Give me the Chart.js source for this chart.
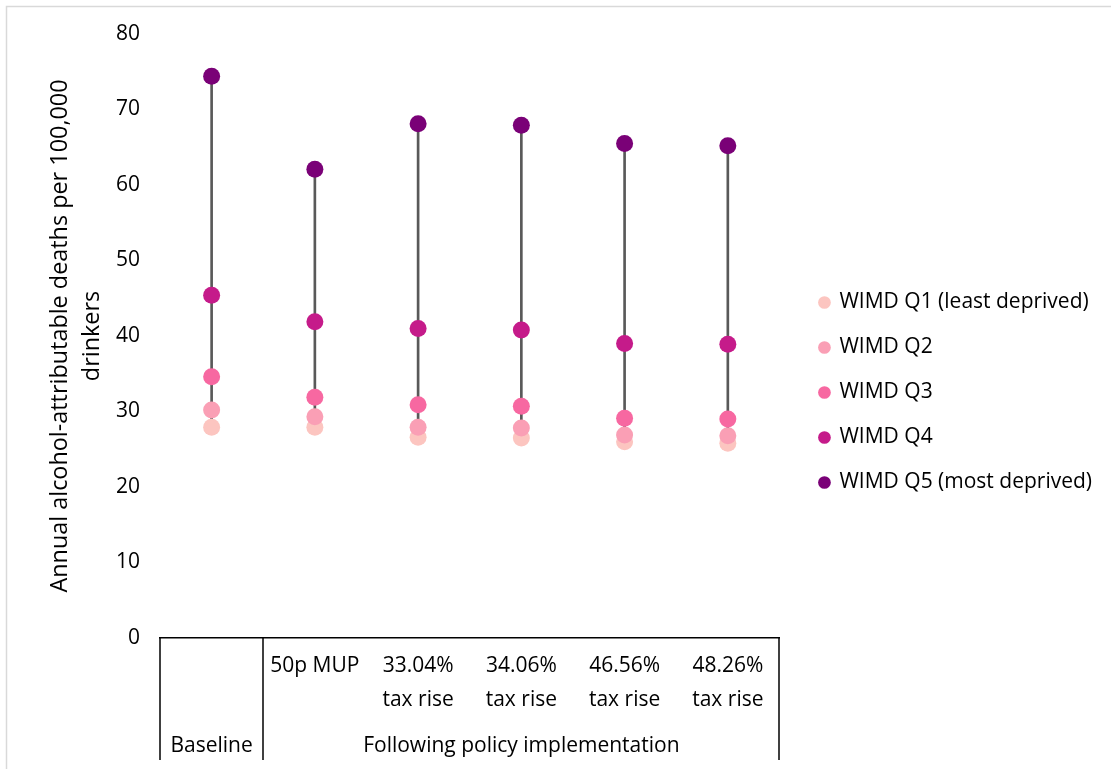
<!DOCTYPE html>
<html>
<head>
<meta charset="utf-8">
<script src="https://cdn.jsdelivr.net/npm/chart.js@4"></script>
<style>
  html, body { margin: 0; padding: 0; background: #fff; }
  #wrap { width: 1111px; height: 769px; position: relative; }
</style>
</head>
<body>
<div id="wrap"><canvas id="c"></canvas></div>
<script>
// Categories and their two-level axis labels
const categories = ["Baseline", "50p MUP", "33.04% tax rise", "34.06% tax rise", "46.56% tax rise", "48.26% tax rise"];
const tickLines = [[], ["50p MUP"], ["33.04%", "tax rise"], ["34.06%", "tax rise"], ["46.56%", "tax rise"], ["48.26%", "tax rise"]];
const groupLabels = ["Baseline", "Following policy implementation"];
const groupSpans = [[0, 0], [1, 5]];

// Annual alcohol-attributable deaths per 100,000 drinkers, by deprivation quintile
const seriesNames = ["WIMD Q1 (least deprived)", "WIMD Q2", "WIMD Q3", "WIMD Q4", "WIMD Q5 (most deprived)"];
const q1 = [27.9, 27.9, 26.6, 26.5, 26.0, 25.8];
const q2 = [30.2, 29.3, 27.9, 27.8, 26.9, 26.8];
const q3 = [34.6, 31.9, 30.9, 30.7, 29.1, 29.0];
const q4 = [45.4, 41.9, 41.0, 40.8, 39.0, 38.9];
const q5 = [74.4, 62.1, 68.1, 67.9, 65.5, 65.2];
const yTicks = [0, 10, 20, 30, 40, 50, 60, 70, 80];

const colors = ["#fcc5c0", "#fa9fb5", "#f768a1", "#c51b8a", "#7a0177"];
const FONT = "'Open Sans', Lato, sans-serif";
const allSeries = [q1, q2, q3, q4, q5];

// High-low range for each category (floating bar drawn as a thin stem)
const ranges = categories.map((_, i) => {
  const vals = allSeries.map(s => s[i]);
  return [Math.min(...vals), Math.max(...vals)];
});

const pointSets = allSeries.map((s, k) => ({
  type: 'line',
  label: seriesNames[k],
  data: s,
  showLine: false,
  pointRadius: 8.5,
  pointHoverRadius: 8.5,
  pointBackgroundColor: colors[k],
  pointBorderColor: colors[k],
  pointBorderWidth: 0,
  backgroundColor: colors[k],
  borderColor: colors[k],
  pointStyle: 'circle',
  order: 5 - k
}));

const stemSet = {
  type: 'bar',
  label: 'range',
  data: ranges,
  backgroundColor: '#595959',
  borderWidth: 0,
  barThickness: 2,
  order: 10
};

// Frame, axis table and its labels
const framePlugin = {
  id: 'frame',
  beforeDraw(chart) {
    const ctx = chart.ctx;
    ctx.save();
    ctx.strokeStyle = '#d9d9d9';
    ctx.lineWidth = 1.5;
    ctx.beginPath();
    ctx.moveTo(6.5, chart.height);
    ctx.lineTo(6.5, 6.5);
    ctx.lineTo(chart.width, 6.5);
    ctx.stroke();
    ctx.restore();
  },
  afterDraw(chart) {
    const ctx = chart.ctx;
    const xs = chart.scales.x;
    const area = chart.chartArea;
    const top = area.bottom;
    const bottom = top + 122;
    ctx.save();
    ctx.strokeStyle = '#000';
    ctx.lineWidth = 1.5;
    const edges = new Set();
    groupSpans.forEach(([a, b]) => {
      edges.add(Math.round(xs.getPixelForValue(a - 0.5)));
      edges.add(Math.round(xs.getPixelForValue(b + 0.5)));
    });
    edges.forEach(x => {
      ctx.beginPath();
      ctx.moveTo(x, top);
      ctx.lineTo(x, bottom);
      ctx.stroke();
    });
    ctx.fillStyle = '#000';
    ctx.font = '21px ' + FONT;
    ctx.textAlign = 'center';
    ctx.textBaseline = 'middle';
    tickLines.forEach((lines, i) => {
      const x = xs.getPixelForValue(i);
      lines.forEach((t, j) => ctx.fillText(t, x, top + 28 + j * 34));
    });
    groupSpans.forEach(([a, b], g) => {
      const x = (xs.getPixelForValue(a - 0.5) + xs.getPixelForValue(b + 0.5)) / 2;
      ctx.fillText(groupLabels[g], x, top + 108);
    });
    ctx.restore();
  }
};

new Chart(document.getElementById('c'), {
  data: { labels: categories, datasets: [...pointSets, stemSet] },
  options: {
    responsive: true,
    maintainAspectRatio: false,
    animation: false,
    layout: { padding: { top: 34, right: 9, left: 0, bottom: 18 } },
    plugins: {
      legend: {
        position: 'right',
        maxWidth: 400,
        labels: {
          usePointStyle: true,
          boxWidth: 9,
          boxHeight: 9,
          padding: 24,
          color: '#000',
          font: { family: FONT, size: 21 },
          filter: item => item.datasetIndex < 5,
          sort: (a, b) => a.datasetIndex - b.datasetIndex
        }
      },
      tooltip: { enabled: false }
    },
    scales: {
      x: {
        offset: true,
        grid: { display: false, drawTicks: false },
        border: { display: true, color: '#000', width: 1.5 },
        ticks: { display: false },
        afterFit(scale) { scale.height = 113; }
      },
      y: {
        min: 0,
        max: 80,
        afterBuildTicks(scale) { scale.ticks = yTicks.map(v => ({ value: v })); },
        grid: { display: false, drawTicks: false },
        border: { display: false },
        ticks: { color: '#000', padding: 20, font: { family: FONT, size: 21 } },
        title: {
          display: true,
          text: ["Annual alcohol-attributable deaths per 100,000", "drinkers"],
          color: '#000',
          font: { family: FONT, size: 23.4, lineHeight: 1.37 },
          padding: { top: 44, bottom: 0 }
        },
        afterFit(scale) { scale.width = 160; }
      },
      gap: {
        type: 'linear',
        position: 'right',
        display: true,
        grid: { display: false, drawTicks: false },
        border: { display: false },
        ticks: { display: false },
        afterFit(scale) { scale.width = 16.5; }
      }
    }
  },
  plugins: [framePlugin]
});
</script>
</body>
</html>
